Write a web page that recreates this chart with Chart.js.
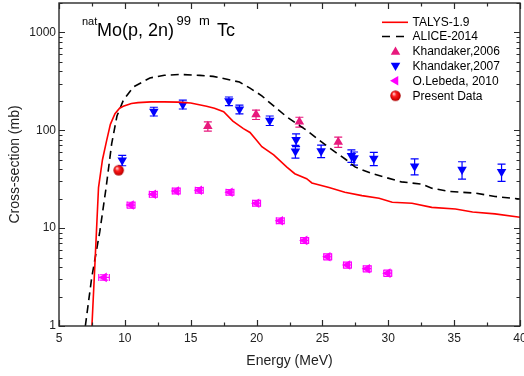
<!DOCTYPE html>
<html><head><meta charset="utf-8">
<script src="https://cdn.jsdelivr.net/npm/chart.js@4.4.0/dist/chart.umd.min.js"></script>
<style>html,body{margin:0;padding:0;background:#fff;overflow:hidden}canvas{display:block}</style>
</head><body>
<canvas id="c" width="524" height="376"></canvas>
<script>
// ---- data ----
const xTickValues = [5, 10, 15, 20, 25, 30, 35, 40];
const yTickValues = [1, 10, 100, 1000];

const talysE = [7.5, 7.75, 8.0, 8.3, 8.62, 8.9, 9.25, 9.6, 9.88, 10.5, 11, 12, 13, 14, 15, 16.2, 16.8, 17.5, 18.2, 19.0, 19.5, 20.0, 20.4, 21.3, 22.3, 22.9, 23.8, 24.2, 25.5, 26.7, 28.0, 29.3, 30.3, 31.8, 33.3, 35.1, 36.4, 38.1, 40];
const talysY = [1, 5, 26, 50, 79, 115, 148, 168, 176, 188, 192, 195, 195, 194, 190, 176, 168, 155, 124, 104, 95, 79, 68, 56, 42, 36, 32, 29, 26, 23.3, 21.5, 20.2, 18.4, 18.0, 16.3, 15.7, 14.6, 14.0, 12.9];

const aliceE = [7.0, 7.48, 8.1, 8.57, 9.0, 9.4, 9.88, 10.64, 11.9, 13, 14.2, 15.7, 16.7, 17.2, 18.7, 19.5, 20.4, 20.8, 22.3, 23.8, 25.4, 26.8, 27.5, 28.8, 31.0, 32.6, 33.3, 34.6, 36.6, 38.1, 40];
const aliceY = [1, 3.1, 9.25, 25.6, 73, 140, 202, 277, 343, 365, 372, 364, 356, 345, 311, 270, 225, 202, 137, 100, 68, 50, 42, 36, 29.7, 28.1, 25.6, 23.7, 22.8, 21.1, 19.8];

const k06E = [16.3, 19.96, 23.25, 26.2];
const k06Y = [110, 145, 122, 76];
const k06Err = [12, 16, 14, 9];

const k07E = [9.8, 12.2, 14.4, 17.9, 18.7, 21.0, 23.0, 22.95, 24.9, 27.2, 27.4, 28.9, 32.0, 35.6, 38.6];
const k07Y = [49.4, 156, 184, 199, 164, 126, 80, 61, 61.5, 55, 52, 51.5, 43, 39.7, 37.6];
const k07Err = [6, 16, 19, 20, 17, 14, 12, 9, 9, 8, 8, 8, 8, 8, 7.5];

const lebE = [8.42, 10.47, 12.16, 13.9, 15.65, 17.98, 20.0, 21.8, 23.65, 25.4, 26.9, 28.4, 29.96];
const lebY = [3.14, 17.2, 22.2, 24.0, 24.4, 23.3, 18.0, 11.9, 7.5, 5.1, 4.2, 3.85, 3.47];
const lebXErr = [0.4, 0.3, 0.3, 0.3, 0.3, 0.3, 0.3, 0.3, 0.3, 0.3, 0.3, 0.3, 0.3];
const lebYErr = [0.2, 1.2, 1.5, 1.6, 1.6, 1.5, 1.2, 0.8, 0.5, 0.35, 0.3, 0.27, 0.25];

const presE = [9.53];
const presY = [39.1];

// ---- helpers ----
const pts = (xs, ys) => xs.map((x, i) => ({x: x, y: ys[i]}));
const FONT = "'Liberation Sans', Arial, sans-serif";
const PINK = '#e8197d', BLUE = '#0000ff', MAG = '#ff00ff', RED = '#ff0000';

function makeSphere(r) {
  const c = document.createElement('canvas');
  const s = Math.ceil(r * 2 + 2);
  c.width = s; c.height = s;
  const g = c.getContext('2d');
  const cx = s / 2, cy = s / 2;
  const grd = g.createRadialGradient(cx - r * 0.35, cy - r * 0.4, r * 0.1, cx, cy, r);
  grd.addColorStop(0, '#ffc8c8');
  grd.addColorStop(0.35, '#ff2020');
  grd.addColorStop(0.85, '#d00000');
  grd.addColorStop(1, '#a00000');
  g.fillStyle = grd;
  g.beginPath(); g.arc(cx, cy, r, 0, Math.PI * 2); g.fill();
  return c;
}
const sphere = makeSphere(5.2);

const errorBars = {
  id: 'errorBars',
  beforeDatasetsDraw(chart) {
    const ctx = chart.ctx, xs = chart.scales.x, ys = chart.scales.y;
    ctx.save();
    chart.data.datasets.forEach(ds => {
      if (!ds.errY && !ds.errX) return;
      ctx.strokeStyle = ds.errColor; ctx.lineWidth = 1.2;
      ds.data.forEach((p, i) => {
        const px = xs.getPixelForValue(p.x), py = ys.getPixelForValue(p.y);
        if (ds.errY) {
          const t = ys.getPixelForValue(p.y + ds.errY[i]);
          const b = ys.getPixelForValue(Math.max(p.y - ds.errY[i], 0.5));
          ctx.beginPath();
          ctx.moveTo(px, t); ctx.lineTo(px, b);
          ctx.moveTo(px - 4, t); ctx.lineTo(px + 4, t);
          ctx.moveTo(px - 4, b); ctx.lineTo(px + 4, b);
          ctx.stroke();
        }
        if (ds.errX) {
          const l = xs.getPixelForValue(p.x - ds.errX[i]);
          const r = xs.getPixelForValue(p.x + ds.errX[i]);
          ctx.beginPath();
          ctx.moveTo(l, py); ctx.lineTo(r, py);
          ctx.moveTo(l, py - 3.5); ctx.lineTo(l, py + 3.5);
          ctx.moveTo(r, py - 3.5); ctx.lineTo(r, py + 3.5);
          ctx.stroke();
        }
      });
    });
    ctx.restore();
  }
};

const frameTicks = {
  id: 'frameTicks',
  afterDraw(chart) {
    const ctx = chart.ctx, a = chart.chartArea, xs = chart.scales.x, ys = chart.scales.y;
    ctx.save();
    ctx.strokeStyle = '#2a2a2a'; ctx.lineWidth = 1.4;
    ctx.strokeRect(a.left, a.top, a.right - a.left, a.bottom - a.top);
    ctx.lineWidth = 1.2;
    ctx.beginPath();
    const xMajor = xTickValues, xMinor = [];
    for (let i = 0; i < xMajor.length - 1; i++) xMinor.push((xMajor[i] + xMajor[i + 1]) / 2);
    const tickX = (v, len) => {
      const p = Math.round(xs.getPixelForValue(v)) + 0.5;
      ctx.moveTo(p, a.bottom); ctx.lineTo(p, a.bottom - len);
      ctx.moveTo(p, a.top); ctx.lineTo(p, a.top + len);
    };
    xMajor.forEach(v => tickX(v, 6));
    xMinor.forEach(v => tickX(v, 3.5));
    const tickY = (v, len) => {
      const p = Math.round(ys.getPixelForValue(v)) + 0.5;
      ctx.moveTo(a.left, p); ctx.lineTo(a.left + len, p);
      ctx.moveTo(a.right, p); ctx.lineTo(a.right - len, p);
    };
    yTickValues.forEach(v => tickY(v, 6));
    yTickValues.forEach(d => { for (let m = 2; m <= 9; m++) if (m * d <= 2000) tickY(m * d, 3.5); });
    ctx.stroke();

    // title
    ctx.fillStyle = '#000';
    ctx.textBaseline = 'alphabetic';
    ctx.textAlign = 'left';
    const t0 = 82;
    ctx.font = '11px ' + FONT; ctx.fillText('nat', t0, 25);
    ctx.font = '18px ' + FONT; ctx.fillText('Mo(p, 2n)', t0 + 15, 36);
    ctx.font = '13px ' + FONT; ctx.fillText('99', t0 + 94.5, 25); ctx.fillText('m', t0 + 117, 25);
    ctx.font = '18px ' + FONT; ctx.fillText('Tc', t0 + 135, 36);

    // legend
    const lx = 382, sx = 395.5, tx = 412.5;
    const rows = [22.3, 36.5, 51.5, 66, 80.7, 95.7];
    const labels = ['TALYS-1.9', 'ALICE-2014', 'Khandaker,2006', 'Khandaker,2007', 'O.Lebeda, 2010', 'Present Data'];
    ctx.lineWidth = 1.6;
    ctx.strokeStyle = RED; ctx.beginPath(); ctx.moveTo(lx, rows[0]); ctx.lineTo(408, rows[0]); ctx.stroke();
    ctx.strokeStyle = '#000'; ctx.setLineDash([8, 6]); ctx.beginPath(); ctx.moveTo(lx, rows[1]); ctx.lineTo(408, rows[1]); ctx.stroke();
    ctx.setLineDash([]);
    const tri = (color, rot, y) => {
      ctx.fillStyle = color;
      Chart.helpers.drawPoint(ctx, {pointStyle: 'triangle', radius: 5.5, rotation: rot, borderWidth: 0}, sx, y);
    };
    tri(PINK, 0, rows[2] + 0.5);
    tri(BLUE, 180, rows[3] - 0.5);
    tri(MAG, 270, rows[4]);
    ctx.drawImage(sphere, sx - sphere.width / 2, rows[5] - sphere.height / 2);
    ctx.fillStyle = '#000';
    ctx.font = '12px ' + FONT;
    ctx.textBaseline = 'middle';
    labels.forEach((t, i) => ctx.fillText(t, tx, rows[i] + 0.5));
    ctx.restore();
  }
};

new Chart(document.getElementById('c'), {
  type: 'scatter',
  data: {
    datasets: [
      {label: 'TALYS-1.9', data: pts(talysE, talysY), showLine: true, borderColor: RED, borderWidth: 1.6, pointRadius: 0, tension: 0},
      {label: 'ALICE-2014', data: pts(aliceE, aliceY), showLine: true, borderColor: '#000', borderWidth: 1.6, borderDash: [8, 5], pointRadius: 0, tension: 0},
      {label: 'Khandaker,2006', data: pts(k06E, k06Y), pointStyle: 'triangle', pointRadius: 5.5, pointRotation: 0, backgroundColor: PINK, borderColor: PINK, borderWidth: 0, errY: k06Err, errColor: PINK},
      {label: 'Khandaker,2007', data: pts(k07E, k07Y), pointStyle: 'triangle', pointRadius: 5.5, pointRotation: 180, backgroundColor: BLUE, borderColor: BLUE, borderWidth: 0, errY: k07Err, errColor: BLUE},
      {label: 'O.Lebeda, 2010', data: pts(lebE, lebY), pointStyle: 'triangle', pointRadius: 5.5, pointRotation: 270, backgroundColor: MAG, borderColor: MAG, borderWidth: 0, errY: lebYErr, errX: lebXErr, errColor: MAG},
      {label: 'Present Data', data: pts(presE, presY), pointStyle: sphere, pointRadius: 5.2}
    ]
  },
  options: {
    responsive: false,
    animation: false,
    devicePixelRatio: 1,
    layout: {autoPadding: false, padding: {top: 3, right: 4, left: 0, bottom: 0}},
    plugins: {legend: {display: false}, tooltip: {enabled: false}},
    scales: {
      x: {
        type: 'linear', min: 5, max: 40,
        afterBuildTicks: s => { s.ticks = xTickValues.map(v => ({value: v})); },
        afterFit: s => { s.height = 50; s.paddingLeft = 0; s.paddingRight = 0; },
        ticks: {font: {size: 12, family: FONT}, color: '#222', padding: 5, maxRotation: 0, autoSkip: false},
        grid: {display: false, drawTicks: false},
        border: {display: false},
        title: {display: true, text: 'Energy (MeV)', font: {size: 14, family: FONT}, color: '#222', padding: {top: 0, bottom: 6}}
      },
      y: {
        type: 'logarithmic', min: 1, max: 2000,
        afterBuildTicks: s => { s.ticks = yTickValues.map(v => ({value: v})); },
        afterFit: s => { s.width = 59; s.paddingTop = 0; s.paddingBottom = 0; },
        ticks: {font: {size: 12, family: FONT}, color: '#222', padding: 3, callback: v => String(v), autoSkip: false},
        grid: {display: false, drawTicks: false},
        border: {display: false},
        title: {display: true, text: 'Cross-section (mb)', font: {size: 14, family: FONT}, color: '#222', padding: {top: 7, bottom: 0}}
      }
    }
  },
  plugins: [errorBars, frameTicks]
});
</script>
</body></html>
